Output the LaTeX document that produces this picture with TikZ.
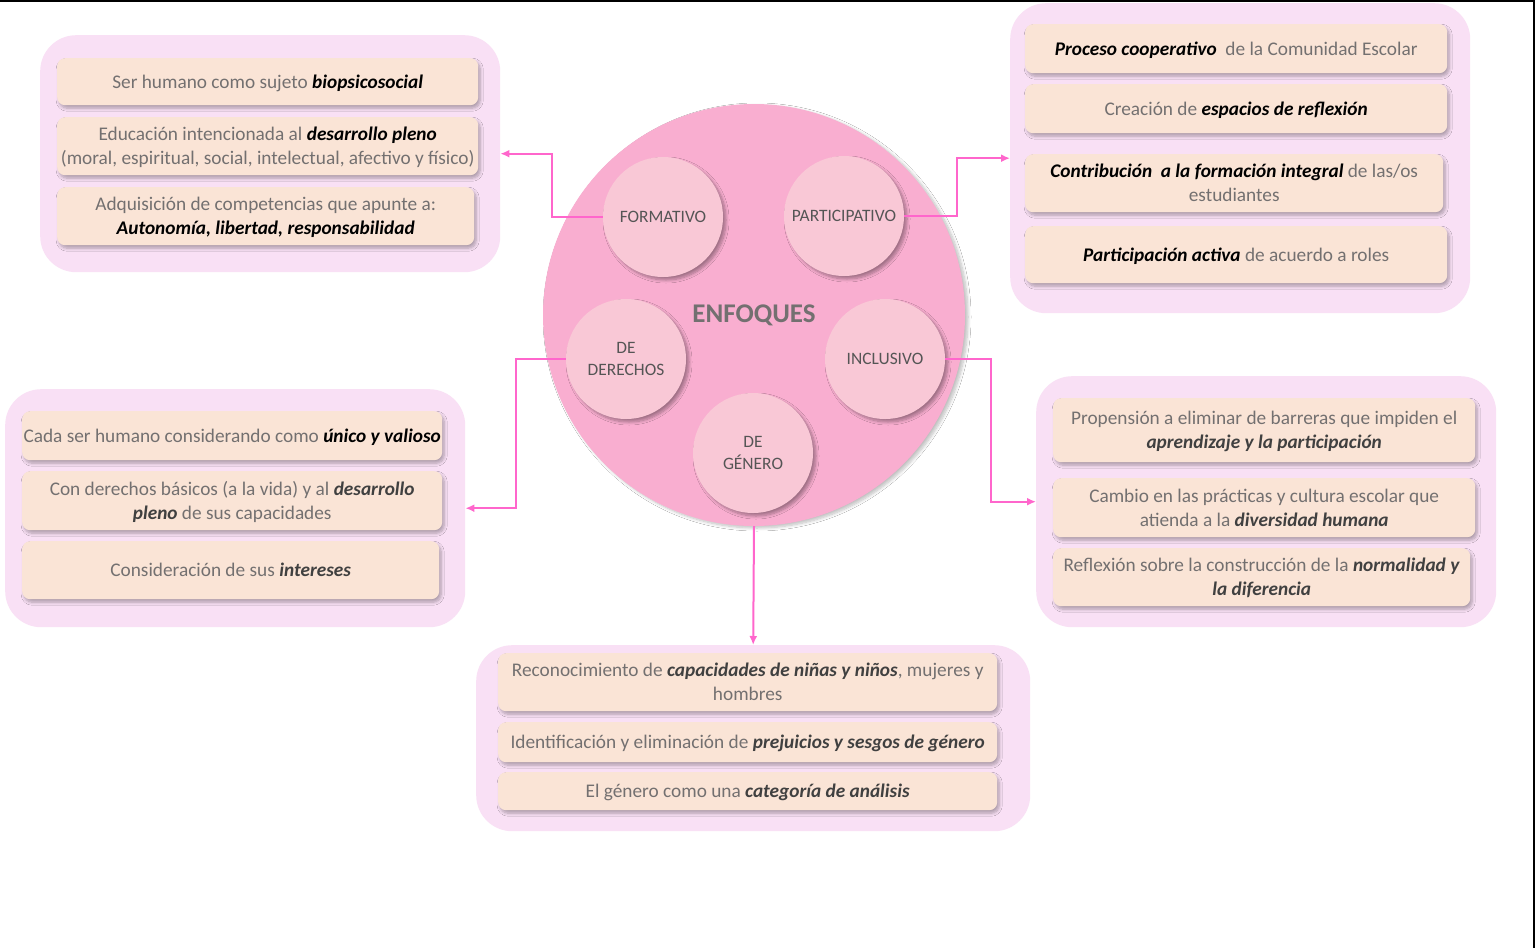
\documentclass[tikz,border=0pt]{standalone}
\usepackage{fontspec}
\setmainfont{Carlito}
\usetikzlibrary{shadows.blur,arrows.meta}
\definecolor{outerbg}{RGB}{249,224,245}
\definecolor{peach}{RGB}{250,228,214}
\definecolor{bigpink}{RGB}{249,174,208}
\definecolor{smallpink}{RGB}{249,200,214}
\definecolor{conncol}{RGB}{255,102,204}
\definecolor{txtgray}{RGB}{115,112,112}
\definecolor{circtxt}{RGB}{85,85,85}
\definecolor{emdark}{RGB}{64,64,64}
\newcommand{\EmB}[1]{\textcolor{black}{\textbf{\textit{#1}}}}
\newcommand{\EmD}[1]{\textcolor{emdark}{\textbf{\textit{#1}}}}
\tikzset{
  grp/.style={fill=outerbg, rounded corners=36pt, inner sep=0pt, anchor=north west},
  item/.style={fill=peach, rounded corners=8pt, inner sep=0pt, anchor=north west,
    align=center, text=txtgray, font=\fontsize{19.3}{24}\selectfont, text depth=0pt,
    blur shadow={shadow xshift=2pt, shadow yshift=-3pt, shadow blur radius=3pt, shadow blur steps=8, shadow opacity=30}},
  smallc/.style={circle, fill=smallpink, minimum size=120pt, inner sep=0pt, align=center,
    text=circtxt, font=\fontsize{17.4}{22}\selectfont,
    blur shadow={shadow xshift=3pt, shadow yshift=-3pt, shadow blur radius=3pt, shadow blur steps=8, shadow opacity=35}},
  bigc/.style={circle, fill=bigpink, minimum size=422pt, inner sep=0pt,
    text=txtgray, font=\fontsize{27}{30}\selectfont\bfseries,
    blur shadow={shadow xshift=3pt, shadow yshift=-2pt, shadow blur radius=3pt, shadow blur steps=8, shadow opacity=25}},
  conn/.style={draw=conncol, line width=2pt, -{Latex[length=9pt,width=8pt]}}
}
\begin{document}
\begin{tikzpicture}[x=1pt,y=-1pt]
\useasboundingbox (0,0) rectangle (1535,948);
\fill[white] (0,0) rectangle (1535,948);
\draw[black, line width=2.5pt] (0,1) -- (1535,1);
\draw[black, line width=2.5pt] (1534,0) -- (1534,948);

% groups
\node[grp, minimum width=460pt, minimum height=237pt] (gTL) at (40,35) {};
\node[grp, minimum width=460pt, minimum height=310pt] (gTR) at (1010,3) {};
\node[grp, minimum width=460pt, minimum height=238pt] (gL) at (5,389) {};
\node[grp, minimum width=460pt, minimum height=251pt] (gR) at (1036,376) {};
\node[grp, minimum width=554pt, minimum height=186pt] (gB) at (476,645) {};

% top-left items
\node[item, minimum width=421pt, minimum height=47pt] (tl1) at (57,58) {Ser humano como sujeto \EmB{biopsicosocial}};
\node[item, minimum width=421pt, minimum height=58pt] (tl2) at (57,117) {Educación intencionada al \EmB{desarrollo pleno}\\(moral, espiritual, social, intelectual, afectivo y físico)};
\node[item, minimum width=417pt, minimum height=58pt] (tl3) at (57,187) {Adquisición de competencias que apunte a:\\\EmB{Autonomía, libertad, responsabilidad}};

% top-right items
\node[item, minimum width=422pt, minimum height=49pt] (tr1) at (1025,24) {\EmB{Proceso cooperativo}\ \ de la Comunidad Escolar};
\node[item, minimum width=422pt, minimum height=49pt] (tr2) at (1025,84) {Creación de \EmB{espacios de reflexión}};
\node[item, minimum width=418pt, minimum height=58pt] (tr3) at (1025,154) {\EmB{Contribución\ \ a la formación integral} de las/os\\estudiantes};
\node[item, minimum width=422pt, minimum height=57pt] (tr4) at (1025,226) {\EmB{Participación activa} de acuerdo a roles};

% left items
\node[item, minimum width=420pt, minimum height=49pt] (l1) at (22,411) {Cada ser humano considerando como \EmB{único y valioso}};
\node[item, minimum width=420pt, minimum height=59pt] (l2) at (22,471) {Con derechos básicos (a la vida) y al \EmD{desarrollo}\\\EmD{pleno} de sus capacidades};
\node[item, minimum width=417pt, minimum height=58pt] (l3) at (22,541) {Consideración de sus \EmD{intereses}};

% right items
\node[item, minimum width=422pt, minimum height=64pt] (r1) at (1053,398) {Propensión a eliminar de barreras que impiden el\\\EmD{aprendizaje y la participación}};
\node[item, minimum width=422pt, minimum height=59pt] (r2) at (1053,478) {Cambio en las prácticas y cultura escolar que\\atienda a la \EmD{diversidad humana}};
\node[item, minimum width=417pt, minimum height=58pt] (r3) at (1053,548) {Reflexión sobre la construcción de la \EmD{normalidad y}\\\EmD{la diferencia}};

% bottom items
\node[item, minimum width=499pt, minimum height=58pt] (b1) at (498,653) {Reconocimiento de \EmD{capacidades de niñas y niños}, mujeres y\\hombres};
\node[item, minimum width=499pt, minimum height=40pt] (b2) at (498,722) {Identificación y eliminación de \EmD{prejuicios y sesgos de género}};
\node[item, minimum width=499pt, minimum height=38pt] (b3) at (498,772) {El género como una \EmD{categoría de análisis}};

% central circle
\node[bigc] (enf) at (754,315) {ENFOQUES};
\node[smallc] (form) at (663,217) {FORMATIVO};
\node[smallc] (part) at (844,216) {PARTICIPATIVO};
\node[smallc] (dere) at (626,359) {DE\\DERECHOS};
\node[smallc] (incl) at (885,359) {INCLUSIVO};
\node[smallc] (gene) at (753,453) {DE\\GÉNERO};

% connectors
\draw[conn] (form.west) -| (552,216) |- (gTL.east);
\draw[conn] (part.east) -- (957,216) |- (gTR.west);
\draw[conn] (dere.west) -- (516,359) |- (gL.east);
\draw[conn] (incl.east) -- (991,359) |- (gR.west);
\draw[conn] (enf.south) -- (gB.north);
\end{tikzpicture}
\end{document}
